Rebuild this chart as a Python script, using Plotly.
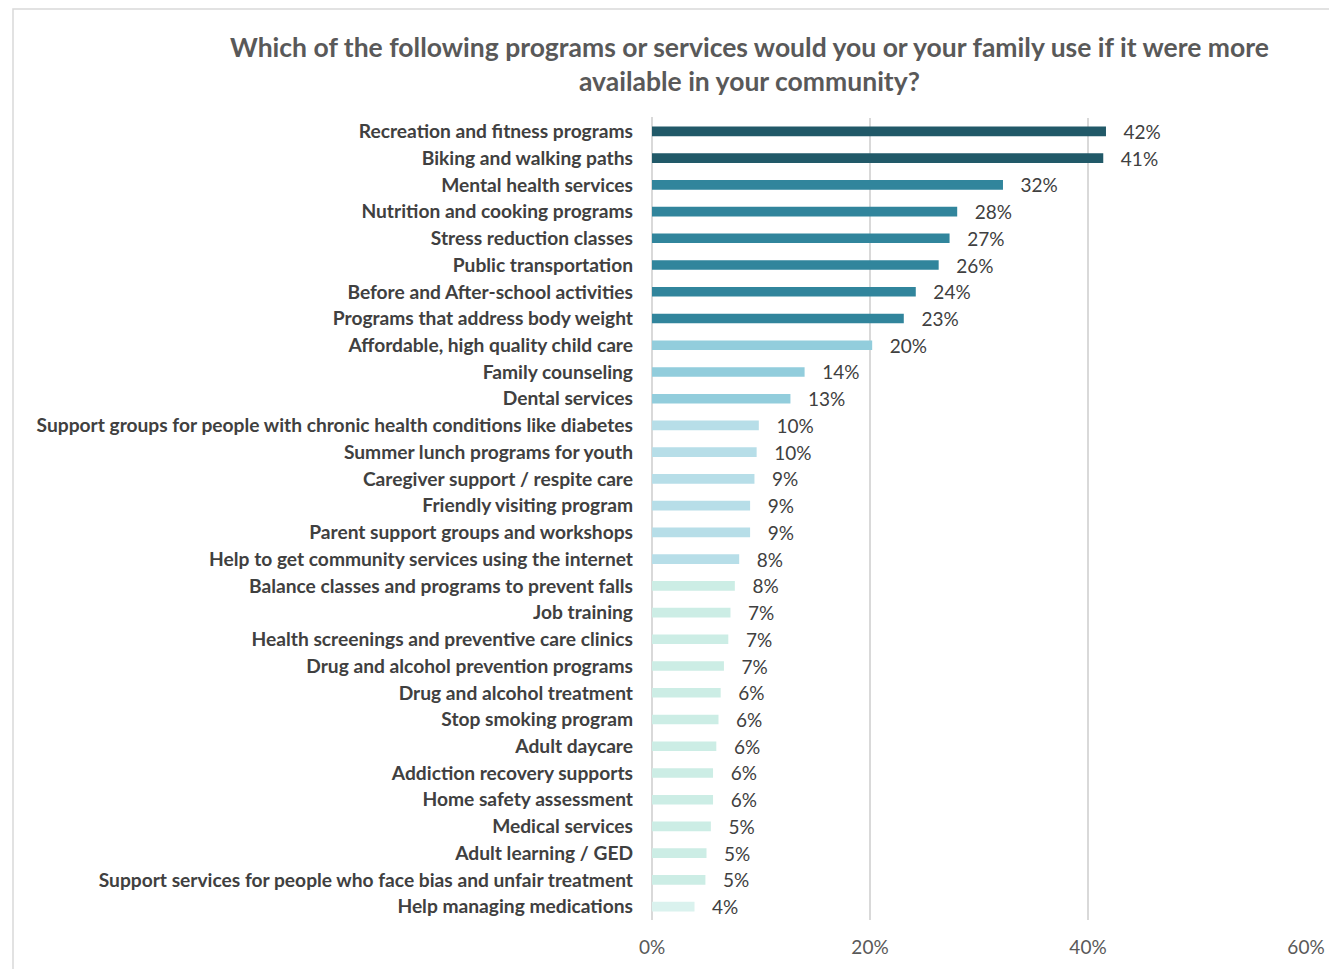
import plotly.graph_objects as go

categories = [
    "Recreation and fitness programs",
    "Biking and walking paths",
    "Mental health services",
    "Nutrition and cooking programs",
    "Stress reduction classes",
    "Public transportation",
    "Before and After-school activities",
    "Programs that address body weight",
    "Affordable, high quality child care",
    "Family counseling",
    "Dental services",
    "Support groups for people with chronic health conditions like diabetes",
    "Summer lunch programs for youth",
    "Caregiver support / respite care",
    "Friendly visiting program",
    "Parent support groups and workshops",
    "Help to get community services using the internet",
    "Balance classes and programs to prevent falls",
    "Job training",
    "Health screenings and preventive care clinics",
    "Drug and alcohol prevention programs",
    "Drug and alcohol treatment",
    "Stop smoking program",
    "Adult daycare",
    "Addiction recovery supports",
    "Home safety assessment",
    "Medical services",
    "Adult learning / GED",
    "Support services for people who face bias and unfair treatment",
    "Help managing medications",
]
values = [
    0.4165, 0.414, 0.322, 0.280, 0.273, 0.263, 0.242, 0.231, 0.202, 0.140,
    0.127, 0.098, 0.096, 0.094, 0.090, 0.090, 0.080, 0.076, 0.072, 0.070,
    0.066, 0.063, 0.061, 0.059, 0.056, 0.056, 0.054, 0.050, 0.049, 0.039,
]
tick_vals = [0, 0.2, 0.4, 0.6]
tick_text = ["0%", "20%", "40%", "60%"]
title_text = ("Which of the following programs or services would you or your family use if it were more"
              "<br>available in your community?")

colors = (["#215968"] * 2 + ["#31859C"] * 6 + ["#92CDDC"] * 3 + ["#B7DEE8"] * 6
          + ["#CCEDE5"] * 12 + ["#DAF2EE"])

# page body has an 8px margin; work in screen pixels and shift
OFF = 8
W, H = 1337 - OFF, 969 - OFF
L, R, T, B = 652 - OFF, 31, 118 - OFF, 49
pw, ph = W - L - R, H - T - B

def px(x):
    return (x - OFF - L) / pw

def py(y):
    return (H - B - (y - OFF)) / ph

fig = go.Figure(go.Bar(
    x=values, y=categories, orientation="h",
    marker=dict(color=colors, line=dict(width=0)),
    text=values, texttemplate="   %{x:.0%}", textposition="outside",
    constraintext="none",
    textfont=dict(family="Lato", size=19, color="#404040"),
    cliponaxis=False, width=0.36,
))

fig.update_layout(
    width=W, height=H,
    margin=dict(l=L, r=R, t=T, b=B),
    paper_bgcolor="white", plot_bgcolor="white",
    showlegend=False,
    font=dict(family="Lato", color="#404040"),
    xaxis=dict(range=[0, 0.6], tickvals=tick_vals, ticktext=tick_text,
               showgrid=True, gridcolor="#D9D9D9", gridwidth=2,
               zeroline=False, showline=False,
               tickfont=dict(family="Lato", size=19, color="#595959"),
               ticklabelstandoff=14),
    yaxis=dict(autorange="reversed", showgrid=False, zeroline=False,
               showline=False, ticks="",
               tickfont=dict(family="Lato", size=19.2, color="#404040", weight="bold"),
               ticklabelstandoff=18),
    shapes=[
        dict(type="line", xref="paper", yref="paper", x0=px(652), x1=px(652),
             y0=py(117), y1=py(920), line=dict(color="#D9D9D9", width=2), layer="below"),
        dict(type="rect", xref="paper", yref="paper", x0=px(13), x1=px(1345),
             y0=py(975), y1=py(9), line=dict(color="#D9D9D9", width=1.5)),
    ],
    annotations=[
        dict(text=title_text, xref="paper", yref="paper", x=px(749), y=py(64),
             xanchor="center", yanchor="middle", showarrow=False,
             font=dict(family="Lato", size=26.5, color="#595959", weight="bold"),
             align="center"),
    ],
)

fig.write_html("out.html")
